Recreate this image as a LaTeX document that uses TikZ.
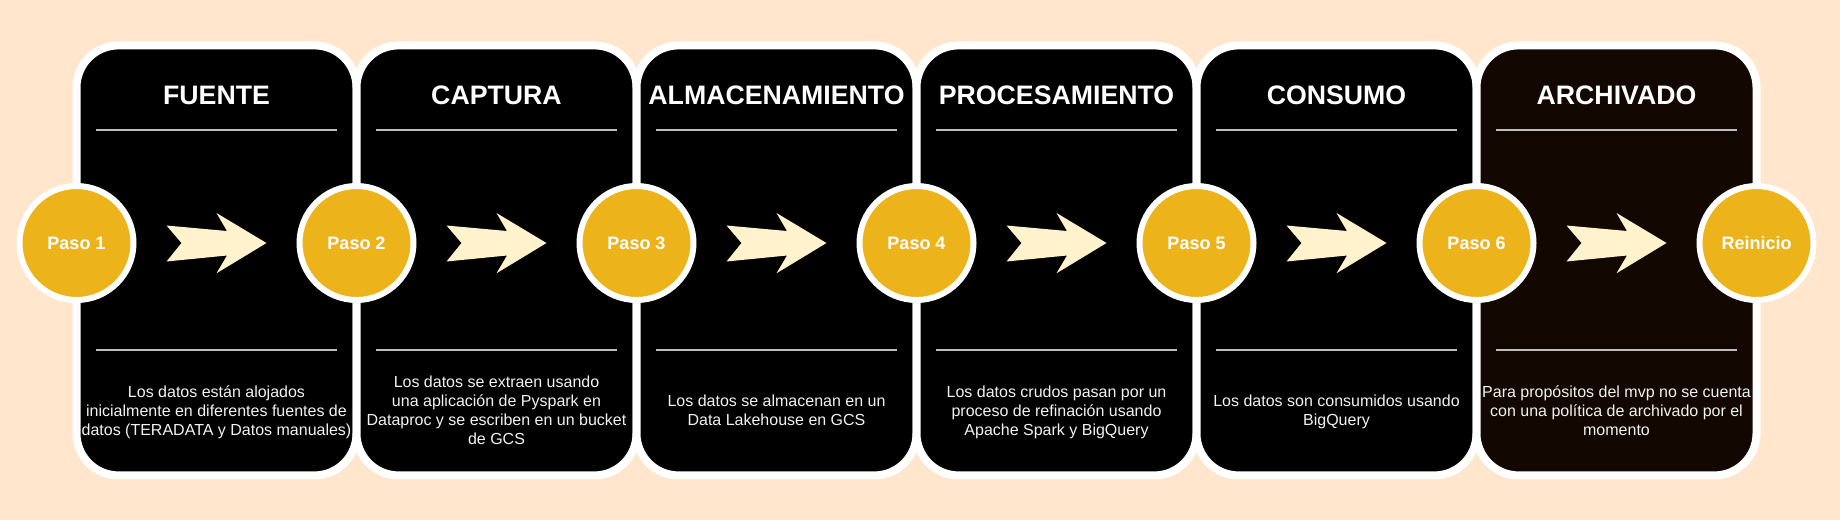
\documentclass[tikz,border=0pt]{standalone}
\usepackage{fontspec}
\setmainfont{Liberation Sans}
\definecolor{bgpeach}{HTML}{FFE6CC}
\definecolor{gold}{HTML}{ECB41A}
\definecolor{cream}{HTML}{FFF2CC}
\definecolor{darkbrown}{HTML}{120701}
\definecolor{rulegray}{HTML}{BDBDBD}
\definecolor{bodytext}{HTML}{F2F2F2}
\begin{document}
\begin{tikzpicture}[x=1pt,y=-1pt,
  card/.style={draw=white, line width=8pt, rounded corners=42pt, minimum width=280pt, minimum height=430pt, inner sep=0pt},
  stepcircle/.style={circle, draw=white, line width=6pt, fill=gold, minimum size=114pt, inner sep=0pt, font=\fontsize{18}{21}\selectfont\bfseries, text=white},
  cardtitle/.style={anchor=base, font=\fontsize{26.7}{32}\selectfont\bfseries, text=white, inner sep=0pt},
  cardbody/.style={align=center, font=\fontsize{16}{19}\selectfont, text=bodytext, inner sep=0pt},
  divider/.style={draw=rulegray, line width=2pt},
  flowarrow/.style={fill=cream, draw=none}]
\useasboundingbox (0,0) rectangle (1840,520);
\fill[bgpeach] (0,0) rectangle (1840,520);
% cards
\foreach \k/\col in {0/black,1/black,2/black,3/black,4/black,5/darkbrown}{
  \node[card, fill=\col] (card\k) at (216.5+280*\k,260.4) {};
}
% titles, dividers, arrows
\foreach \k/\ttl in {0/FUENTE,1/CAPTURA,2/ALMACENAMIENTO,3/PROCESAMIENTO,4/CONSUMO,5/ARCHIVADO}{
  \node[cardtitle] (title\k) at (216.5+280*\k,104.5) {\ttl};
  \draw[divider] (96+280*\k,130) -- (337+280*\k,130);
  \draw[divider] (96+280*\k,350) -- (337+280*\k,350);
  \fill[flowarrow, shift={(216.5+280*\k,243)}]
    (-50,-17.5) -- (-35,0) -- (-50,18.5) -- (10.5,12.5) -- (0,30.3)
    -- (50,0) -- (0,-30) -- (10.5,-12) -- cycle;
}
% body texts
\node[cardbody] (body0) at (216.5,412.2) {\strut Los datos están alojados\\inicialmente en diferentes fuentes de\\datos (TERADATA y Datos manuales)\strut};
\node[cardbody] (body1) at (496.5,412.2) {\strut Los datos se extraen usando\\una aplicación de Pyspark en\\Dataproc y se escriben en un bucket\\de GCS\strut};
\node[cardbody] (body2) at (776.5,412.2) {\strut Los datos se almacenan en un\\Data Lakehouse en GCS\strut};
\node[cardbody] (body3) at (1056.5,412.2) {\strut Los datos crudos pasan por un\\proceso de refinación usando\\Apache Spark y BigQuery\strut};
\node[cardbody] (body4) at (1336.5,412.2) {\strut Los datos son consumidos usando\\BigQuery\strut};
\node[cardbody] (body5) at (1616.5,412.2) {\strut Para propósitos del mvp no se cuenta\\con una política de archivado por el\\momento\strut};
% step circles
\foreach \k/\lbl in {0/Paso 1,1/Paso 2,2/Paso 3,3/Paso 4,4/Paso 5,5/Paso 6,6/Reinicio}{
  \node[stepcircle] (paso\k) at (76.5+280*\k,243) {\lbl};
}
\end{tikzpicture}
\end{document}
